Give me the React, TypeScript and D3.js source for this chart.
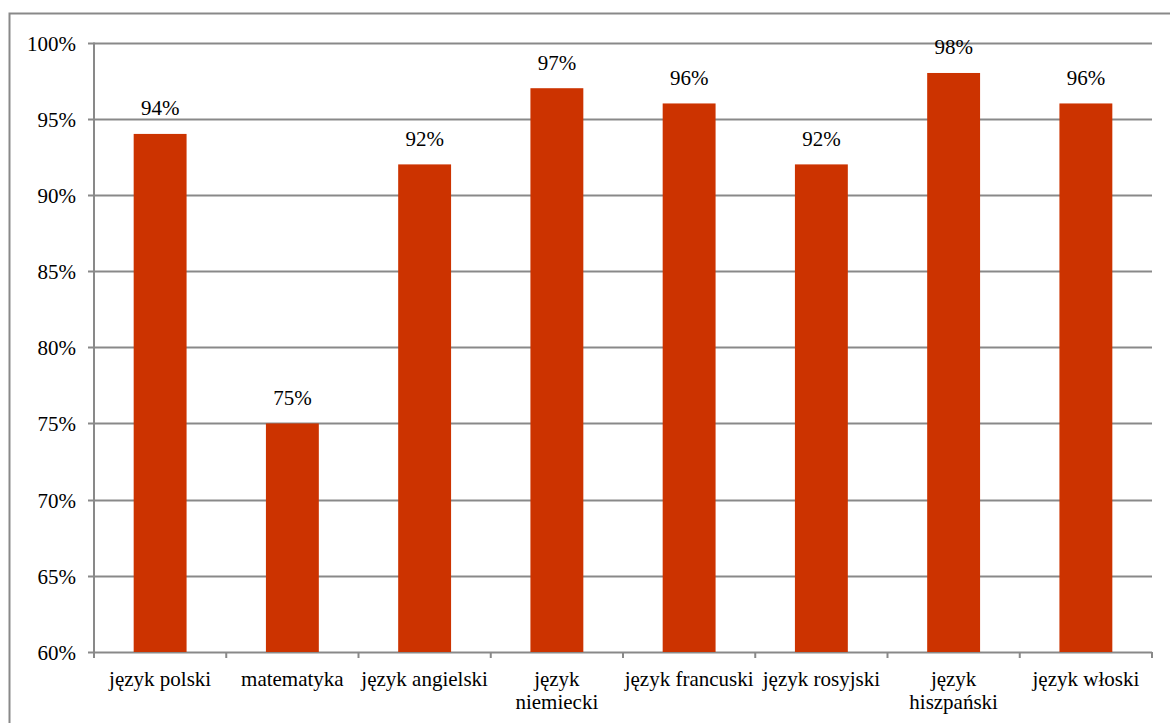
import React from "react";
import * as d3 from "d3";

const categories: string[][] = [
  ["język polski"],
  ["matematyka"],
  ["język angielski"],
  ["język", "niemiecki"],
  ["język francuski"],
  ["język rosyjski"],
  ["język", "hiszpański"],
  ["język włoski"],
];
const values: number[] = [94, 75, 92, 97, 96, 92, 98, 96];
const yTicks: number[] = [60, 65, 70, 75, 80, 85, 90, 95, 100];

const W = 1170;
const H = 723;
const left = 94;
const right = 1152;
const top = 42.5;
const bottom = 652;
const FONT = "Liberation Serif";
const FS = 21;
const GRID = "#898989";
const BAR = "#CC3300";

export default function App() {
  const x = d3
    .scaleBand<number>()
    .domain(d3.range(categories.length))
    .range([left, right])
    .paddingInner(0.6)
    .paddingOuter(0.3);
  const band = (right - left) / categories.length;
  const y = d3.scaleLinear().domain([60, 100]).range([bottom, top]);

  return (
    <svg
      width={W}
      height={H}
      style={{ position: "absolute", left: 0, top: 0, background: "#fff" }}
    >
      <rect x={9.5} y={13.5} width={1200} height={800} fill="#fff" stroke={GRID} strokeWidth={2} />
      {yTicks.map((t) => (
        <g key={t}>
          <line x1={88} x2={right} y1={Math.round(y(t)) + 0.5} y2={Math.round(y(t)) + 0.5} stroke={GRID} strokeWidth={2} />
          <text x={76} y={y(t) + 8} textAnchor="end" fontSize={FS} style={{ fontFamily: FONT }} fill="#000">
            {t}%
          </text>
        </g>
      ))}
      <line x1={left} x2={left} y1={top} y2={bottom + 5} stroke={GRID} strokeWidth={2} />
      {d3.range(categories.length + 1).map((i) => (
        <line
          key={i}
          x1={left + i * band}
          x2={left + i * band}
          y1={bottom}
          y2={bottom + 6}
          stroke={GRID}
          strokeWidth={2}
        />
      ))}
      {values.map((v, i) => (
        <g key={i}>
          <rect x={x(i)!} y={y(v)} width={x.bandwidth()} height={bottom - y(v)} fill={BAR} />
          <text
            x={x(i)! + x.bandwidth() / 2}
            y={y(v) - 18.5}
            textAnchor="middle"
            fontSize={FS}
            style={{ fontFamily: FONT }}
            fill="#000"
          >
            {v}%
          </text>
        </g>
      ))}
      {categories.map((lines, i) => (
        <text
          key={i}
          x={left + (i + 0.5) * band}
          y={686}
          textAnchor="middle"
          fontSize={FS}
          style={{ fontFamily: FONT }}
          fill="#000"
        >
          {lines.map((l, j) => (
            <tspan key={j} x={left + (i + 0.5) * band} dy={j === 0 ? 0 : 23}>
              {l}
            </tspan>
          ))}
        </text>
      ))}
    </svg>
  );
}
